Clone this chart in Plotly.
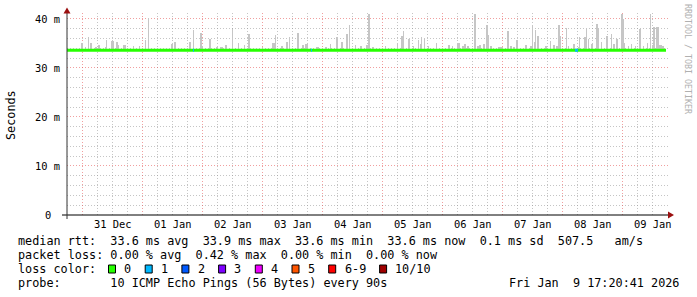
import plotly.graph_objects as go
from datetime import datetime, timedelta

# ---------------- data ----------------
graph_start = datetime(2025, 12, 30, 17, 44)   # first RRD row shown
step_minutes = 24                               # one RRD row per pixel column
graph_cols = 601                                # rows covered by the x axis
data_cols = 599                                 # rows holding data (to Jan 9 17:20)

# median rtt per day (ms) at day boundaries (step-wise)
median_times = ["2025-12-30 17:44", "2025-12-31 00:00", "2026-01-01 00:00", "2026-01-02 00:00",
                "2026-01-03 00:00", "2026-01-04 00:00", "2026-01-05 00:00", "2026-01-06 00:00",
                "2026-01-07 00:00", "2026-01-08 00:00", "2026-01-09 00:00", "2026-01-09 17:20"]
median_ms = [33.6, 33.6, 33.6, 33.6, 33.6, 33.6, 33.6, 33.6, 33.6, 33.6, 33.6, 33.6]

# rows with lost packets (row index, pings lost of 10)
loss_rows = [126, 244, 508, 509, 510]
loss_count = [1, 1, 1, 1, 1]

# smoke: highest ping per row range (row index, max rtt ms, rows)
spike_row = [14, 18, 21, 23, 28, 31, 38, 39, 44, 49, 51, 56, 66, 72, 78, 81, 104, 107, 122, 126,
             133, 135, 142, 149, 153, 158, 165, 171, 177, 181, 195, 205, 208, 214, 219, 222, 230,
             235, 238, 249, 258, 263, 269, 274, 279, 282, 288, 293, 299, 301, 305, 318, 330, 334,
             336, 341, 346, 351, 353, 354, 357, 361, 369, 381, 385, 390, 395, 397, 400, 407, 410,
             412, 416, 419, 421, 423, 431, 440, 443, 446, 449, 458, 463, 465, 467, 468, 470, 478,
             483, 486, 489, 491, 493, 499, 501, 506, 511, 512, 517, 519, 521, 524, 529, 531, 534,
             539, 544, 546, 549, 554, 556, 557, 561, 564, 568, 572, 576, 580, 583, 585, 586, 589,
             592, 595]
spike_ms = [35.1, 34.2, 36.3, 35.1, 34.2, 34.6, 34.3, 35.7, 35.5, 35.2, 34.6, 34.7, 34.5, 34.4,
            35.7, 40.2, 34.9, 35.3, 35.3, 37.8, 37.1, 34.4, 35.9, 34.3, 34.3, 34.6, 38.0, 35.1,
            34.6, 37.0, 34.3, 35.1, 36.8, 34.4, 35.2, 36.4, 37.2, 34.7, 34.8, 34.3, 34.2, 34.8,
            36.4, 35.3, 36.9, 38.7, 34.6, 34.4, 34.6, 40.9, 34.3, 34.4, 34.9, 36.5, 37.5, 35.9,
            34.5, 35.6, 34.9, 36.3, 36.1, 34.4, 35.1, 34.6, 34.4, 35.1, 34.5, 34.9, 34.4, 40.9,
            34.5, 34.6, 34.8, 38.7, 36.8, 34.5, 34.2, 37.5, 34.4, 34.3, 35.7, 34.7, 34.4, 38.8,
            35.2, 37.8, 36.5, 34.4, 35.5, 34.6, 34.4, 38.7, 36.5, 38.1, 34.4, 34.8, 34.2, 36.4,
            36.4, 38.0, 35.9, 34.9, 38.9, 38.0, 35.3, 36.5, 37.0, 34.9, 35.9, 40.9, 39.9, 35.1,
            34.4, 34.9, 34.4, 38.0, 34.4, 35.0, 40.9, 34.7, 38.3, 38.3, 34.6, 34.4]
spike_len = [2, 1, 1, 2, 2, 2, 1, 1, 3, 2, 1, 3, 1, 1, 1, 1, 2, 2, 2, 1,
             2, 1, 2, 2, 3, 2, 1, 1, 1, 2, 1, 3, 1, 2, 2, 1, 2,
             2, 3, 3, 2, 1, 2, 2, 2, 1, 1, 2, 2, 2, 2, 1, 1, 2,
             1, 2, 1, 1, 1, 1, 1, 1, 1, 2, 1, 3, 2, 2, 2, 2, 2,
             2, 2, 2, 1, 2, 5, 2, 2, 2, 2, 2, 2, 1, 1, 1, 2, 2,
             1, 2, 2, 2, 1, 1, 1, 2, 1, 1, 2, 1, 1, 2, 2, 1, 1,
             2, 1, 2, 2, 2, 1, 1, 1, 1, 1, 2, 1, 1, 1, 1, 2, 3,
             3, 2]

y_tick_vals = [0, 10, 20, 30, 40]
y_tick_text = ["0", "10 m", "20 m", "30 m", "40 m"]

loss_labels = ["0", "1", "2", "3", "4", "5", "6-9", "10/10"]
loss_colors = ["#26ff00", "#00b8ff", "#0059ff", "#7e00ff", "#ee00ff", "#ff5500", "#ff0000", "#a00000"]

legend_rows = [
    "median rtt:  33.6 ms avg  33.9 ms max  33.6 ms min  33.6 ms now  0.1 ms sd  507.5   am/s",
    "packet loss: 0.00 % avg  0.42 % max  0.00 % min  0.00 % now",
    "loss color:",
    "probe:       10 ICMP Echo Pings (56 Bytes) every 90s",
]
stamp_text = "Fri Jan  9 17:20:41 2026"
watermark = "RRDTOOL / TOBI OETIKER"
y_title = "Seconds"

# ---------------- geometry ----------------
W, H = 697, 297
L, R, T, B = 67, 29, 13, 82
PW, PH = W - L - R, H - T - B
Y_MAX = 41.2
MONO = "DejaVu Sans Mono"
ADV = 7.1  # char advance of legend font


def px(xp):
    return (xp - L) / PW


def py(yp):
    return (H - B - yp) / PH


def row_time(r):
    return graph_start + timedelta(minutes=step_minutes * r)


step_ms = step_minutes * 60 * 1000
axis_end = row_time(graph_cols)
base_val = median_ms[0]

fig = go.Figure()

# smoke
fig.add_trace(go.Bar(
    x=[row_time(r) + timedelta(minutes=step_minutes * n / 2) for r, n in zip(spike_row, spike_len)],
    y=[m - base_val for m in spike_ms],
    base=[base_val] * len(spike_ms),
    width=[n * step_ms for n in spike_len],
    marker=dict(color="#c6c6c6", line=dict(width=0)),
    hoverinfo="skip", showlegend=False,
))

# median line (loss colour 0)
fig.add_trace(go.Scatter(
    x=median_times, y=median_ms, mode="lines", line=dict(color=loss_colors[0], width=3, shape="hv"),
    hoverinfo="skip", showlegend=False,
))

# loss segments
for r, c in zip(loss_rows, loss_count):
    fig.add_trace(go.Scatter(
        x=[row_time(r), row_time(r + 1)], y=[base_val, base_val], mode="lines",
        line=dict(color=loss_colors[c], width=3), hoverinfo="skip", showlegend=False,
    ))

shapes = []
# axes lines and arrows
shapes.append(dict(type="line", xref="paper", yref="paper", x0=px(62), x1=px(669), y0=py(215), y1=py(215),
                   line=dict(color="#000000", width=1)))
shapes.append(dict(type="line", xref="paper", yref="paper", x0=px(67), x1=px(67), y0=py(219), y1=py(11),
                   line=dict(color="#333333", width=1)))
shapes.append(dict(type="path", xref="paper", yref="paper",
                   path=f"M {px(668)} {py(211.5)} L {px(674)} {py(215)} L {px(668)} {py(218.5)} Z",
                   fillcolor="#9b1010", line=dict(width=0)))
shapes.append(dict(type="path", xref="paper", yref="paper",
                   path=f"M {px(63.5)} {py(13.5)} L {px(67)} {py(7.5)} L {px(70.5)} {py(13.5)} Z",
                   fillcolor="#9b1010", line=dict(width=0)))

annotations = []
for v, t in zip(y_tick_vals, y_tick_text):
    annotations.append(dict(x=px(47.5), y=v, xref="paper", yref="y", text=t, showarrow=False,
                            xanchor="center", yanchor="middle", font=dict(family=MONO, size=10.4, color="#000")))

annotations.append(dict(x=px(11), y=py(115), xref="paper", yref="paper", text=y_title, textangle=-90,
                        showarrow=False, xanchor="center", yanchor="middle",
                        font=dict(family=MONO, size=11.8, color="#000")))
annotations.append(dict(x=px(688), y=py(59), xref="paper", yref="paper", text=watermark, textangle=90,
                        showarrow=False, xanchor="center", yanchor="middle",
                        font=dict(family=MONO, size=8.3, color="#b0b0b0")))

row_y = [241, 255, 269, 283]
for txt, yy in zip(legend_rows, row_y):
    annotations.append(dict(x=px(16), y=py(yy), xref="paper", yref="paper", text=txt.replace(" ", "\u00a0"),
                            showarrow=False, xanchor="left", yanchor="middle",
                            font=dict(family=MONO, size=11.8, color="#000")))
annotations.append(dict(x=px(681), y=py(row_y[3]), xref="paper", yref="paper",
                        text=stamp_text.replace(" ", "\u00a0"), showarrow=False, xanchor="right",
                        yanchor="middle", font=dict(family=MONO, size=11.8, color="#000")))

# loss colour boxes
bx = 108.5
for lab, col in zip(loss_labels, loss_colors):
    shapes.append(dict(type="rect", xref="paper", yref="paper", x0=px(bx), x1=px(bx + 7), y0=py(265),
                       y1=py(273), fillcolor=col, line=dict(color="#000000", width=1)))
    annotations.append(dict(x=px(bx + 13.8), y=py(row_y[2]), xref="paper", yref="paper", text=lab,
                            showarrow=False, xanchor="left", yanchor="middle",
                            font=dict(family=MONO, size=11.8, color="#000")))
    bx = bx + 13.8 + len(lab) * ADV + 15.8

fig.update_layout(
    width=W, height=H, margin=dict(l=L, r=R, t=T, b=B, pad=0),
    paper_bgcolor="white", plot_bgcolor="white",
    barmode="overlay", bargap=0, showlegend=False,
    shapes=shapes, annotations=annotations,
    xaxis=dict(
        type="date", range=[graph_start, axis_end], showline=False, zeroline=False,
        tick0="2025-12-31", dtick=86400000, tickformat="%d %b", ticklabelmode="period",
        ticks="", showgrid=True, gridcolor="rgba(230,80,80,0.55)", griddash="1px,2px", gridwidth=1,
        minor=dict(dtick=6 * 3600000, tick0="2025-12-31", showgrid=True, gridcolor="rgba(150,150,150,0.55)",
                   griddash="1px,2px", gridwidth=1),
        tickfont=dict(family=MONO, size=10.4, color="#000"), ticklabelstandoff=2,
    ),
    yaxis=dict(
        range=[0, Y_MAX], showline=False, zeroline=False, showticklabels=False, ticks="",
        tick0=0, dtick=10, showgrid=True, gridcolor="rgba(230,80,80,0.55)", griddash="1px,2px", gridwidth=1,
        minor=dict(dtick=2, showgrid=True, gridcolor="rgba(150,150,150,0.55)", griddash="1px,2px", gridwidth=1),
    ),
)

fig.write_html("out.html")
